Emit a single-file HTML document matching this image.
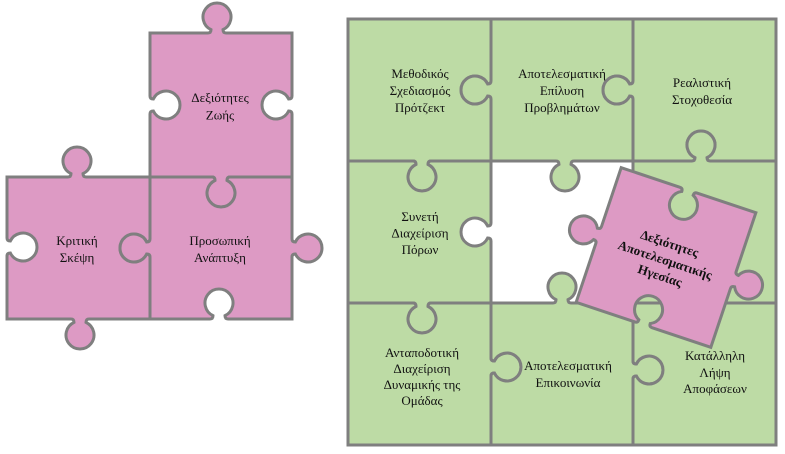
<!DOCTYPE html>
<html>
<head>
<meta charset="utf-8">
<style>
  html, body { margin: 0; padding: 0; background: #ffffff; }
  body { width: 785px; height: 454px; overflow: hidden; }
  svg { display: block; }
  .pk { fill: #dd9ac4; stroke: #7f7f7f; stroke-width: 3; }
  .gr { fill: #bddba5; stroke: #7f7f7f; stroke-width: 3; }
  text { font-family: "Liberation Serif", "Noto Serif CJK SC", serif; font-size: 13px; fill: #111; text-anchor: middle; }
  .b { font-weight: bold; }
</style>
</head>
<body>
<svg width="785" height="454" viewBox="0 0 785 454" xmlns="http://www.w3.org/2000/svg">
  <!-- Left pink puzzle -->
  <path class="pk" d="M150,33 H208 q3,0 3,-3.35 a14,14 0 1 1 12,0 q0,3.35 3,3.35 H292 V96 q0,3 -3.35,3 a14,14 0 1 0 0,12 q3.35,0 3.35,3 V177 H230 q-3,0 -3,3.35 a14,14 0 1 1 -12,0 q0,-3.35 -3,-3.35 H150 V114 q0,-3 3.35,-3 a14,14 0 1 0 0,-12 q-3.35,0 -3.35,-3 Z"/>
  <path class="pk" d="M7,177 H68 q3,0 3,-3.35 a14,14 0 1 1 12,0 q0,3.35 3,3.35 H150 V239 q0,3 -3.35,3 a14,14 0 1 0 0,12 q3.35,0 3.35,3 V319 H89 q-3,0 -3,3.35 a14,14 0 1 1 -12,0 q0,-3.35 -3,-3.35 H7 V256 q0,-3 3.35,-3 a14,14 0 1 0 0,-12 q-3.35,0 -3.35,-3 Z"/>
  <path class="pk" d="M150,177 H212 q3,0 3,3.35 a14,14 0 1 0 12,0 q0,-3.35 3,-3.35 H292 V239 q0,3 3.35,3 a14,14 0 1 1 0,12 q-3.35,0 -3.35,3 V319 H228 q-3,0 -3,-3.35 a14,14 0 1 0 -12,0 q0,3.35 -3,3.35 H150 V257 q0,-3 -3.35,-3 a14,14 0 1 1 0,-12 q3.35,0 3.35,-3 Z"/>

  <text x="220" y="102">Δεξιότητες</text>
  <text x="220" y="119.5">Ζωής</text>
  <text x="77" y="245">Κριτική</text>
  <text x="77" y="262">Σκέψη</text>
  <text x="220" y="245">Προσωπική</text>
  <text x="220" y="262">Ανάπτυξη</text>

  <!-- Right green grid -->
  <path class="gr" d="M348,19 H491 V81 q0,3 -3.35,3 a14,14 0 1 0 0,12 q3.35,0 3.35,3 V161 H431 q-3,0 -3,3.35 a14,14 0 1 1 -12,0 q0,-3.35 -3,-3.35 H348 Z"/>
  <path class="gr" d="M491,19 H633 V81 q0,3 -3.35,3 a14,14 0 1 0 0,12 q3.35,0 3.35,3 V161 H574 q-3,0 -3,3.35 a14,14 0 1 1 -12,0 q0,-3.35 -3,-3.35 H491 V99 q0,-3 -3.35,-3 a14,14 0 1 1 0,-12 q3.35,0 3.35,-3 Z"/>
  <path class="gr" d="M633,19 H776 V161 H710 q-3,0 -3,-3.35 a14,14 0 1 0 -12,0 q0,3.35 -3,3.35 H633 V99 q0,-3 -3.35,-3 a14,14 0 1 1 0,-12 q3.35,0 3.35,-3 Z"/>
  <path class="gr" d="M348,161 H413 q3,0 3,3.35 a14,14 0 1 0 12,0 q0,-3.35 3,-3.35 H491 V223 q0,3 -3.35,3 a14,14 0 1 0 0,12 q3.35,0 3.35,3 V303 H431 q-3,0 -3,3.35 a14,14 0 1 1 -12,0 q0,-3.35 -3,-3.35 H348 Z"/>
  <path class="gr" d="M633,161 H692 q3,0 3,-3.35 a14,14 0 1 1 12,0 q0,3.35 3,3.35 H776 V303 H633 Z"/>
  <path class="gr" d="M348,303 H413 q3,0 3,3.35 a14,14 0 1 0 12,0 q0,-3.35 3,-3.35 H491 V358 q0,3 3.35,3 a14,14 0 1 1 0,12 q-3.35,0 -3.35,3 V445 H348 Z"/>
  <path class="gr" d="M491,303 H553 q3,0 3,-3.35 a14,14 0 1 1 12,0 q0,3.35 3,3.35 H633 V361 q0,3 3.35,3 a14,14 0 1 1 0,12 q-3.35,0 -3.35,3 V445 H491 V376 q0,-3 3.35,-3 a14,14 0 1 0 0,-12 q-3.35,0 -3.35,-3 Z"/>
  <path class="gr" d="M633,303 H776 V445 H633 V379 q0,-3 3.35,-3 a14,14 0 1 0 0,-12 q-3.35,0 -3.35,-3 Z"/>

  <text x="420" y="78">Μεθοδικός</text>
  <text x="420" y="95">Σχεδιασμός</text>
  <text x="420" y="112">Πρότζεκτ</text>

  <text x="562" y="78">Αποτελεσματική</text>
  <text x="562" y="95">Επίλυση</text>
  <text x="562" y="112">Προβλημάτων</text>

  <text x="702" y="87">Ρεαλιστική</text>
  <text x="702" y="104">Στοχοθεσία</text>

  <text x="420" y="221">Συνετή</text>
  <text x="420" y="237.5">Διαχείριση</text>
  <text x="420" y="254">Πόρων</text>

  <text x="422" y="357">Ανταποδοτική</text>
  <text x="422" y="373">Διαχείριση</text>
  <text x="422" y="389">Δυναμικής της</text>
  <text x="422" y="405">Ομάδας</text>

  <text x="568" y="370">Αποτελεσματική</text>
  <text x="568" y="387">Επικοινωνία</text>

  <text x="715" y="360">Κατάλληλη</text>
  <text x="715" y="377">Λήψη</text>
  <text x="715" y="393">Αποφάσεων</text>

  <!-- Rotated pink piece -->
  <g transform="translate(666,257.5) rotate(18.5)">
    <path class="pk" d="M-71,-71 H-9 q3,0 3,3.35 a14,14 0 1 0 12,0 q0,-3.35 3,-3.35 H71 V-9 q0,3 3.35,3 a14,14 0 1 1 0,12 q-3.35,0 -3.35,3 V71 H9 q-3,0 -3,-3.35 a14,14 0 1 0 -12,0 q0,3.35 -3,3.35 H-71 V9 q0,-3 -3.35,-3 a14,14 0 1 1 0,-12 q3.35,0 3.35,-3 Z"/>
    <text class="b" x="-1" y="-10">Δεξιότητες</text>
    <text class="b" x="0" y="7">Αποτελεσματικής</text>
    <text class="b" x="0" y="23.5">Ηγεσίας</text>
  </g>
</svg>
</body>
</html>
